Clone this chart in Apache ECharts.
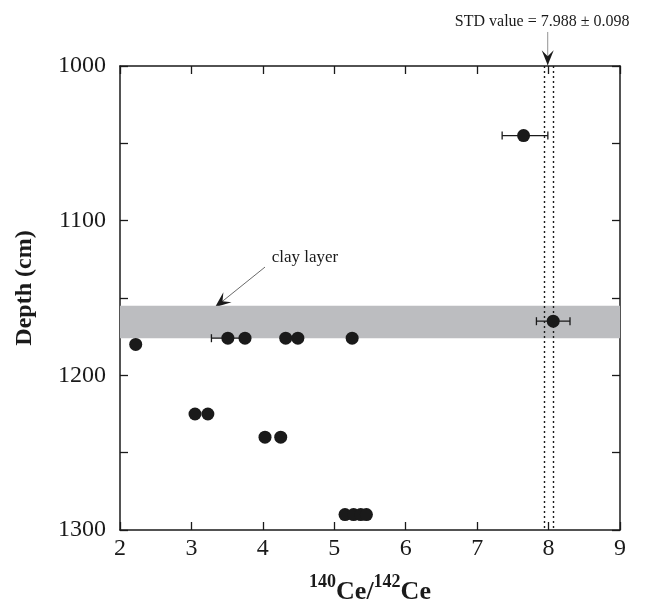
<!DOCTYPE html>
<html>
<head>
<meta charset="utf-8">
<script src="https://cdn.jsdelivr.net/npm/echarts@6/dist/echarts.min.js"></script>
<style>
html, body { margin: 0; padding: 0; background: #fff; }
#chart { width: 649px; height: 607px; }
</style>
</head>
<body>
<div id="chart"></div>
<script>
// measured points: 140Ce/142Ce ratio vs depth
const ratio = [7.65, 8.065, 2.22, 3.51, 3.75, 4.32, 4.49, 5.25, 3.05, 3.23, 4.03, 4.25, 5.15, 5.27, 5.37, 5.45];
const depth = [1045, 1165, 1180, 1176, 1176, 1176, 1176, 1176, 1225, 1225, 1240, 1240, 1290, 1290, 1290, 1290];

// horizontal error bars: [ratio, depth, low, high]
const errBars = [
    [7.65, 1045, 7.35, 7.99],
    [3.51, 1176, 3.28, 3.74],
    [8.065, 1165, 7.83, 8.30]
];

// clay layer depth range and STD band
const clayLayer = [1155, 1176];
const stdBand = [7.94, 8.065];
const stdValue = 7.988;

const xTicks = [2, 3, 4, 5, 6, 7, 8, 9];
const yTicks = [1000, 1100, 1200, 1300];

const serif = "'Liberation Serif', 'Times New Roman', serif";
const ink = '#1a1a1a';

const chart = echarts.init(document.getElementById('chart'));

const axisCommon = {
    type: 'value',
    axisLine: { show: true, onZero: false, lineStyle: { color: ink, width: 1.5 } },
    axisTick: { show: true, inside: true, length: 8, lineStyle: { color: ink, width: 1.3 } },
    splitLine: { show: false }
};

const option = {
    animation: false,
    backgroundColor: '#fff',
    grid: { left: 120, right: 29, top: 66, bottom: 77, containLabel: false, outerBoundsMode: 'none' },
    xAxis: [
        Object.assign({}, axisCommon, {
            min: xTicks[0], max: xTicks[xTicks.length - 1], interval: 1,
            position: 'bottom',
            axisLabel: { fontFamily: serif, fontSize: 24, color: ink, margin: 7 },
            name: '{sup|140}{b|Ce/}{sup|142}{b|Ce}',
            nameLocation: 'middle',
            nameGap: 43,
            nameTextStyle: {
                rich: {
                    sup: { fontFamily: serif, fontWeight: 'bold', fontSize: 18, color: ink, verticalAlign: 'top', lineHeight: 32 },
                    b: { fontFamily: serif, fontWeight: 'bold', fontSize: 26, color: ink, verticalAlign: 'bottom', lineHeight: 32 }
                }
            }
        }),
        Object.assign({}, axisCommon, {
            min: xTicks[0], max: xTicks[xTicks.length - 1], interval: 1,
            position: 'top',
            axisLabel: { show: false }
        })
    ],
    yAxis: [
        Object.assign({}, axisCommon, {
            min: yTicks[0], max: yTicks[yTicks.length - 1], interval: 50,
            inverse: true,
            position: 'left',
            axisLabel: {
                fontFamily: serif, fontSize: 24, color: ink, margin: 14,
                formatter: v => (yTicks.indexOf(v) >= 0 ? String(v) : '')
            },
            name: 'Depth (cm)',
            nameLocation: 'middle',
            nameGap: 83,
            nameTextStyle: { fontFamily: serif, fontWeight: 'bold', fontSize: 24, color: ink, padding: [0, 0, 0, 20] }
        }),
        Object.assign({}, axisCommon, {
            min: yTicks[0], max: yTicks[yTicks.length - 1], interval: 50,
            inverse: true,
            position: 'right',
            axisLabel: { show: false }
        })
    ],
    series: [
        {
            // clay band and STD dotted lines
            type: 'scatter',
            data: [],
            silent: true,
            z: 1,
            markArea: {
                silent: true,
                itemStyle: { color: '#bcbdc0' },
                data: [[{ yAxis: clayLayer[0] }, { yAxis: clayLayer[1] }]]
            },
            markLine: {
                silent: true,
                symbol: 'none',
                label: { show: false },
                lineStyle: { type: [2, 3], color: ink, width: 1.4 },
                data: stdBand.map(v => ({ xAxis: v }))
            }
        },
        {
            type: 'custom',
            z: 3,
            renderItem: function (params, api) {
                const y = api.coord([api.value(0), api.value(1)])[1];
                const lo = api.coord([api.value(2), api.value(1)])[0];
                const hi = api.coord([api.value(3), api.value(1)])[0];
                const st = { stroke: ink, lineWidth: 1.3 };
                return {
                    type: 'group',
                    children: [
                        { type: 'line', shape: { x1: lo, y1: y, x2: hi, y2: y }, style: st },
                        { type: 'line', shape: { x1: lo, y1: y - 4, x2: lo, y2: y + 4 }, style: st },
                        { type: 'line', shape: { x1: hi, y1: y - 4, x2: hi, y2: y + 4 }, style: st }
                    ]
                };
            },
            data: errBars
        },
        {
            type: 'scatter',
            z: 4,
            symbol: 'circle',
            symbolSize: 13,
            itemStyle: { color: ink, opacity: 1 },
            data: ratio.map((r, i) => [r, depth[i]])
        }
    ]
};

chart.setOption(option);

// annotations placed in data coordinates
function px(pt) { return chart.convertToPixel({ gridIndex: 0 }, pt); }

function arrowHead(tip, from, len, half) {
    const dx = tip[0] - from[0], dy = tip[1] - from[1];
    const d = Math.sqrt(dx * dx + dy * dy);
    const ux = dx / d, uy = dy / d;
    const nx = -uy, ny = ux;
    const bx = tip[0] - ux * len, by = tip[1] - uy * len;
    const kx = tip[0] - ux * len * 0.6, ky = tip[1] - uy * len * 0.6;
    return [tip, [bx + nx * half, by + ny * half], [kx, ky], [bx - nx * half, by - ny * half]];
}

const clayText = px([4.59, 1124]);
const clayFrom = px([4.03, 1130]);
const clayTo = px([3.33, 1156]);
const stdText = px([7.91, 971.5]);
const stdFrom = px([stdValue, 978]);
const stdTo = px([stdValue, 999.5]);

chart.setOption({
    graphic: [
        {
            type: 'text', x: clayText[0], y: clayText[1],
            style: { text: 'clay layer', fontFamily: serif, fontSize: 17, fill: ink, align: 'center', verticalAlign: 'middle' }
        },
        {
            type: 'line', shape: { x1: clayFrom[0], y1: clayFrom[1], x2: clayTo[0], y2: clayTo[1] },
            style: { stroke: '#444', lineWidth: 0.8 }
        },
        {
            type: 'polygon', shape: { points: arrowHead(clayTo, clayFrom, 16, 6.5) },
            style: { fill: ink }
        },
        {
            type: 'text', x: stdText[0], y: stdText[1],
            style: { text: 'STD value = 7.988 ± 0.098', fontFamily: serif, fontSize: 16, fill: ink, align: 'center', verticalAlign: 'middle' }
        },
        {
            type: 'line', shape: { x1: stdFrom[0], y1: stdFrom[1], x2: stdTo[0], y2: stdTo[1] },
            style: { stroke: '#777', lineWidth: 0.8 }
        },
        {
            type: 'polygon', shape: { points: arrowHead(stdTo, stdFrom, 15, 6) },
            style: { fill: ink }
        }
    ]
});

window.addEventListener('resize', function () {
    chart.resize();
});
</script>
</body>
</html>
